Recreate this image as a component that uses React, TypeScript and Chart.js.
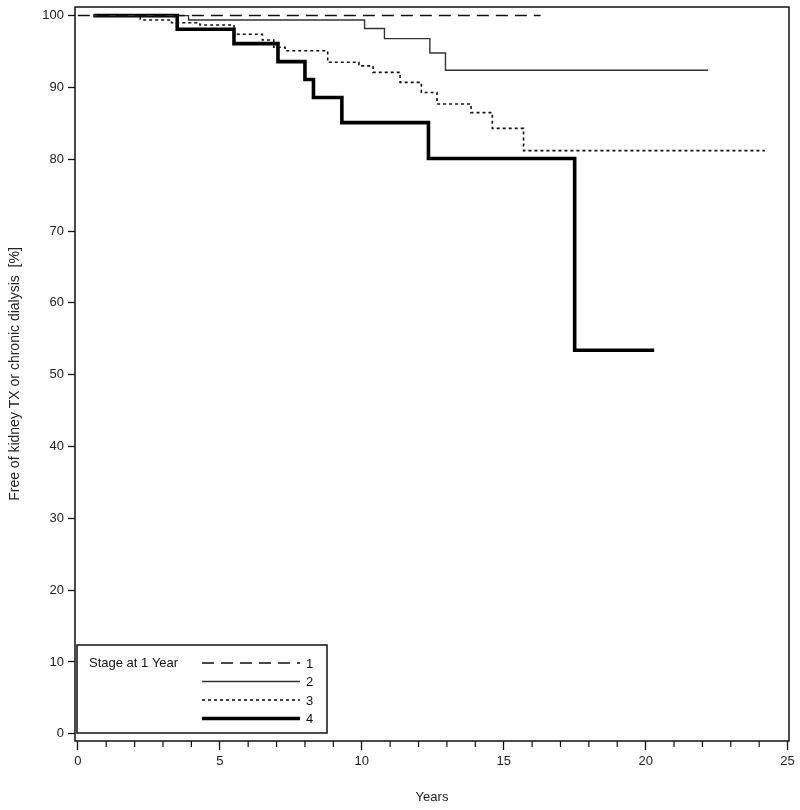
import React, { useEffect, useRef } from "react";
import { Chart, registerables } from "chart.js";

Chart.register(...registerables);

// Kaplan-Meier step curves: time (years) of each step and survival (%) after it
const stage1X = [0, 16.3];
const stage1Y = [100, 100];

const stage2X = [0.55, 3.9, 10.1, 10.8, 12.4, 12.95, 22.2];
const stage2Y = [100, 99.4, 98.2, 96.8, 94.8, 92.4, 92.4];

const stage3X = [0.55, 2.2, 3.3, 4.3, 5.5, 6.5, 6.9, 7.3, 8.8, 9.9, 10.4, 11.35, 12.1, 12.65, 13.85, 14.6, 15.7, 24.2];
const stage3Y = [100, 99.4, 99.0, 98.7, 97.4, 96.6, 95.6, 95.1, 93.5, 93.0, 92.1, 90.7, 89.3, 87.7, 86.5, 84.3, 81.2, 81.2];

const stage4X = [0.55, 3.5, 5.5, 7.05, 8.0, 8.3, 9.3, 12.35, 17.5, 20.3];
const stage4Y = [100, 98.1, 96.1, 93.6, 91.1, 88.6, 85.1, 80.1, 53.4, 53.4];

const legendTitle = "Stage at 1 Year";
const stageLabels = ["1", "2", "3", "4"];
const xTicks = [0, 5, 10, 15, 20, 25];
const yTicks = [0, 10, 20, 30, 40, 50, 60, 70, 80, 90, 100];

const FONT = "'Liberation Sans', Arial, Helvetica, sans-serif";

const toPts = (xs: number[], ys: number[]) => xs.map((x, i) => ({ x, y: ys[i] }));

const styles = [
  { color: "#111", width: 1.5, dash: [12, 7] },
  { color: "#333", width: 1.4, dash: [] as number[] },
  { color: "#111", width: 1.6, dash: [3, 3] },
  { color: "#000", width: 3.6, dash: [] as number[] },
];

const framePlugin = {
  id: "frameAndLegend",
  afterDraw(chart: any) {
    const { ctx, chartArea } = chart;
    const xs = chart.scales.x;
    ctx.save();
    // frame
    ctx.strokeStyle = "#111";
    ctx.lineWidth = 1.5;
    ctx.strokeRect(chartArea.left, chartArea.top, chartArea.right - chartArea.left, chartArea.bottom - chartArea.top);
    // minor x ticks
    ctx.lineWidth = 1.2;
    for (let v = 0; v <= 25; v++) {
      if (v % 5 === 0) continue;
      const px = xs.getPixelForValue(v);
      ctx.beginPath();
      ctx.moveTo(px, chartArea.bottom);
      ctx.lineTo(px, chartArea.bottom + 6);
      ctx.stroke();
    }
    // legend box
    const lx = chartArea.left + 2;
    const ly = chartArea.bottom - 96;
    const lw = 250;
    const lh = 88;
    ctx.fillStyle = "#fff";
    ctx.fillRect(lx, ly, lw, lh);
    ctx.strokeStyle = "#111";
    ctx.lineWidth = 1.5;
    ctx.strokeRect(lx, ly, lw, lh);
    ctx.fillStyle = "#111";
    ctx.font = `13px ${FONT}`;
    ctx.textBaseline = "middle";
    ctx.textAlign = "left";
    ctx.fillText(legendTitle, lx + 12, ly + 18);
    stageLabels.forEach((lab, i) => {
      const yy = ly + 18 + i * 18.5;
      const st = styles[i];
      ctx.beginPath();
      ctx.strokeStyle = st.color;
      ctx.lineWidth = st.width;
      ctx.setLineDash(st.dash);
      ctx.moveTo(lx + 125, yy);
      ctx.lineTo(lx + 223, yy);
      ctx.stroke();
      ctx.setLineDash([]);
      ctx.fillStyle = "#111";
      ctx.fillText(lab, lx + 229, yy + 1);
    });
    ctx.restore();
  },
};

export default function App() {
  const ref = useRef<HTMLCanvasElement | null>(null);

  useEffect(() => {
    if (!ref.current) return;
    const series = [
      toPts(stage1X, stage1Y),
      toPts(stage2X, stage2Y),
      toPts(stage3X, stage3Y),
      toPts(stage4X, stage4Y),
    ];
    const chart = new Chart(ref.current, {
      type: "line",
      data: {
        datasets: series.map((d, i) => ({
          label: stageLabels[i],
          data: d,
          borderColor: styles[i].color,
          borderWidth: styles[i].width,
          borderDash: styles[i].dash,
          stepped: "before" as const,
          pointRadius: 0,
          fill: false,
          tension: 0,
        })),
      },
      options: {
        animation: false,
        responsive: false,
        maintainAspectRatio: false,
        layout: { padding: { top: 7, right: 11, left: 0, bottom: 0 } },
        plugins: { legend: { display: false }, tooltip: { enabled: false } },
        scales: {
          x: {
            type: "linear",
            min: -0.1,
            max: 25.05,
            afterBuildTicks: (s: any) => {
              s.ticks = xTicks.map((v) => ({ value: v }));
            },
            afterFit: (s: any) => {
              s.height = 69;
              s.paddingLeft = 0;
              s.paddingRight = 0;
            },
            grid: {
              drawOnChartArea: false,
              drawTicks: true,
              tickLength: 9,
              tickColor: "#111",
              tickWidth: 1.3,
            },
            border: { display: false },
            ticks: {
              color: "#222",
              font: { family: FONT, size: 13 },
              padding: 4,
              maxRotation: 0,
            },
            title: {
              display: true,
              text: "Years",
              color: "#222",
              font: { family: FONT, size: 13 },
              padding: { top: 0, bottom: 5 },
            },
          },
          y: {
            type: "linear",
            min: -1,
            max: 101.2,
            afterBuildTicks: (s: any) => {
              s.ticks = yTicks.map((v) => ({ value: v }));
            },
            afterFit: (s: any) => {
              s.width = 75;
              s.paddingTop = 0;
              s.paddingBottom = 0;
            },
            grid: {
              drawOnChartArea: false,
              drawTicks: true,
              tickLength: 7,
              tickColor: "#111",
              tickWidth: 1.3,
            },
            border: { display: false },
            ticks: {
              color: "#222",
              font: { family: FONT, size: 13 },
              padding: 4,
            },
            title: {
              display: true,
              text: "Free of kidney TX or chronic dialysis  [%]",
              color: "#222",
              font: { family: FONT, size: 14 },
              padding: { top: 7, bottom: 0 },
            },
          },
        },
      },
      plugins: [framePlugin],
    });
    return () => chart.destroy();
  }, []);

  return (
    <div style={{ position: "fixed", left: 0, top: 0, width: 800, height: 810, background: "#fff" }}>
      <canvas ref={ref} width={800} height={810} style={{ width: 800, height: 810, display: "block" }} />
    </div>
  );
}
